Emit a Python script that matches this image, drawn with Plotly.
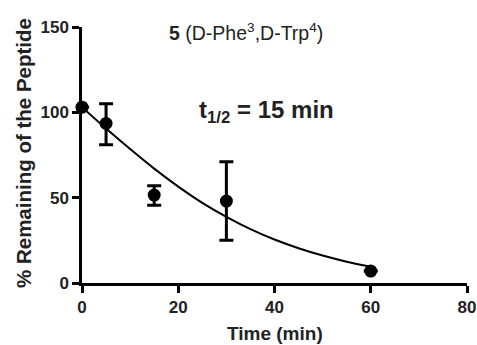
import plotly.graph_objects as go

# Measured data
time_min = [0, 5, 15, 30, 60]
remaining = [103, 93.5, 51.5, 48, 7]
err_plus = [0, 11.5, 5.5, 23, 0]
err_minus = [0, 12.5, 6, 23, 0]

# Fitted decay curve
curve_t = [0, 5, 10, 15, 20, 25, 30, 35, 40, 45, 50, 55, 60]
curve_y = [103, 90.5, 78.5, 67, 56.5, 47, 38.8, 31.6, 25.5, 20.4, 16.1, 12.5, 9.5]

x_ticks = [0, 20, 40, 60, 80]
y_ticks = [0, 50, 100, 150]

fig = go.Figure()
fig.add_trace(go.Scatter(
    x=curve_t, y=curve_y, mode="lines",
    line=dict(color="black", width=2, shape="spline"),
    hoverinfo="skip", cliponaxis=False,
))
fig.add_trace(go.Scatter(
    x=time_min, y=remaining, mode="markers",
    marker=dict(color="black", size=13),
    error_y=dict(type="data", symmetric=False, array=err_plus, arrayminus=err_minus,
                 color="black", thickness=3, width=7),
    cliponaxis=False,
))

font_family = "Liberation Sans, Arial, sans-serif"
axis_common = dict(
    showline=True, linewidth=2.5, linecolor="black",
    ticks="outside", ticklen=7, tickwidth=2.5, tickcolor="black",
    showgrid=False, zeroline=False, automargin=False,
    tickfont=dict(size=17, family=font_family, weight="bold", color="#222"),
)
fig.update_layout(
    width=477, height=345,
    margin=dict(l=82, r=10, t=27, b=62),
    paper_bgcolor="white", plot_bgcolor="white",
    showlegend=False,
    font=dict(family=font_family, color="black"),
    xaxis=dict(range=[0, 80], tickvals=x_ticks, **axis_common),
    yaxis=dict(range=[0, 150], tickvals=y_ticks, **axis_common),
    annotations=[
        dict(text="<b>Time (min)</b>", x=0.5, y=0, xref="paper", yref="paper",
             xanchor="center", yanchor="middle", yshift=-50,
             showarrow=False, font=dict(size=19, color="#222")),
        dict(text="<b>% Remaining of the Peptide</b>", x=0, y=0.5, xref="paper", yref="paper",
             xanchor="center", yanchor="middle", xshift=-59, yshift=2, textangle=-90,
             showarrow=False, font=dict(size=20.5, color="#222")),
        dict(text="<b>5</b> (D-Phe<sup>3</sup>,D-Trp<sup>4</sup>)", x=0.425, y=1.0,
             xref="paper", yref="paper", xanchor="center", yanchor="middle", yshift=-5,
             showarrow=False, font=dict(size=19.5, color="#222")),
        dict(text="<b>t<sub>1/2</sub> = 15 min</b>", x=0.478, y=0.70,
             xref="paper", yref="paper", xanchor="center", yanchor="middle", yshift=-8,
             showarrow=False, font=dict(size=24, color="#222")),
    ],
)

fig.write_html("out.html")
